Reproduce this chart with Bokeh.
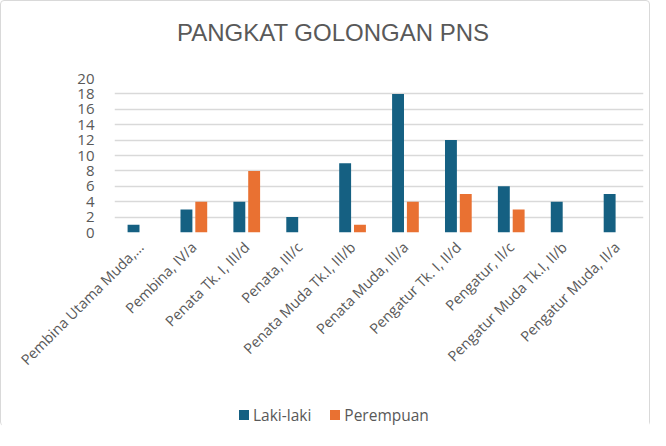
import math
from bokeh.plotting import figure
from bokeh.models import ColumnDataSource, Range1d, FactorRange, SingleIntervalTicker, Div
from bokeh.layouts import column
from bokeh.transform import dodge
from bokeh.embed import file_html
from bokeh.resources import INLINE

title_text = "PANGKAT GOLONGAN PNS"
categories = ["Pembina Utama Muda,\u2026", "Pembina, IV/a", "Penata Tk. I, III/d", "Penata, III/c",
              "Penata Muda Tk.I, III/b", "Penata Muda, III/a", "Pengatur Tk. I, II/d",
              "Pengatur, II/c", "Pengatur Muda Tk.I, II/b", "Pengatur Muda, II/a"]
laki = [1, 3, 4, 2, 9, 18, 12, 6, 4, 5]
perempuan = [0, 4, 8, 0, 1, 4, 5, 3, 0, 0]
series_names = ["Laki-laki", "Perempuan"]
series_colors = ["#156082", "#E97132"]

src = ColumnDataSource(dict(cat=categories, laki=laki, perempuan=perempuan))

FONT = "Open Sans"
GRAY = "#595959"

title_div = Div(text=f'<div style="padding-left:176px;padding-top:20px;white-space:nowrap;'
                     f'font-family:\'Liberation Sans\';font-size:24px;line-height:24px;'
                     f'color:{GRAY}">{title_text}</div>',
                width=648, height=44, margin=0)

p = figure(x_range=FactorRange(*categories, range_padding=0), y_range=Range1d(0, 20),
           frame_width=529, frame_height=154, output_backend="svg", toolbar_location=None,
           min_border_left=113, min_border_right=6, min_border_top=33, min_border_bottom=196)

p.vbar(x=dodge("cat", -0.14, range=p.x_range), top="laki", width=0.225, source=src,
       color=series_colors[0], line_color=None)
p.vbar(x=dodge("cat", 0.14, range=p.x_range), top="perempuan", width=0.225, source=src,
       color=series_colors[1], line_color=None)

p.outline_line_color = None
p.xgrid.grid_line_color = None
p.ygrid.grid_line_color = "#d9d9d9"
p.ygrid.grid_line_width = 1.5
p.yaxis.ticker = SingleIntervalTicker(interval=2)

for ax in (p.xaxis[0], p.yaxis[0]):
    ax.axis_line_color = None
    ax.major_tick_line_color = None
    ax.minor_tick_line_color = None
    ax.major_label_text_font = FONT
    ax.major_label_text_color = GRAY

p.yaxis.major_label_text_font_size = "15px"
p.yaxis.major_label_standoff = 14
p.xaxis.major_label_text_font_size = "14.5px"
p.xaxis.major_label_orientation = math.pi / 4
p.xaxis.major_label_standoff = 6

items = "".join(
    f'<span style="display:inline-flex;align-items:center;margin-right:19px">'
    f'<span style="display:inline-block;width:10px;height:10px;background:{c};margin-right:4px"></span>'
    f'{n}</span>'
    for n, c in zip(series_names, series_colors))
legend_div = Div(text=f'<div style="display:flex;align-items:center;padding-left:238px;white-space:nowrap;'
                      f'font-family:\'Open Sans\';font-size:15.5px;color:{GRAY};line-height:20px">'
                      f'{items}</div>',
                 width=648, height=20, margin=0, styles={"margin-top": "-23px"})

layout = column(title_div, p, legend_div, spacing=0,
                styles={"border": "1.5px solid #d9d9d9", "border-radius": "4px"})

open("out.html", "w").write(file_html(layout, INLINE))
